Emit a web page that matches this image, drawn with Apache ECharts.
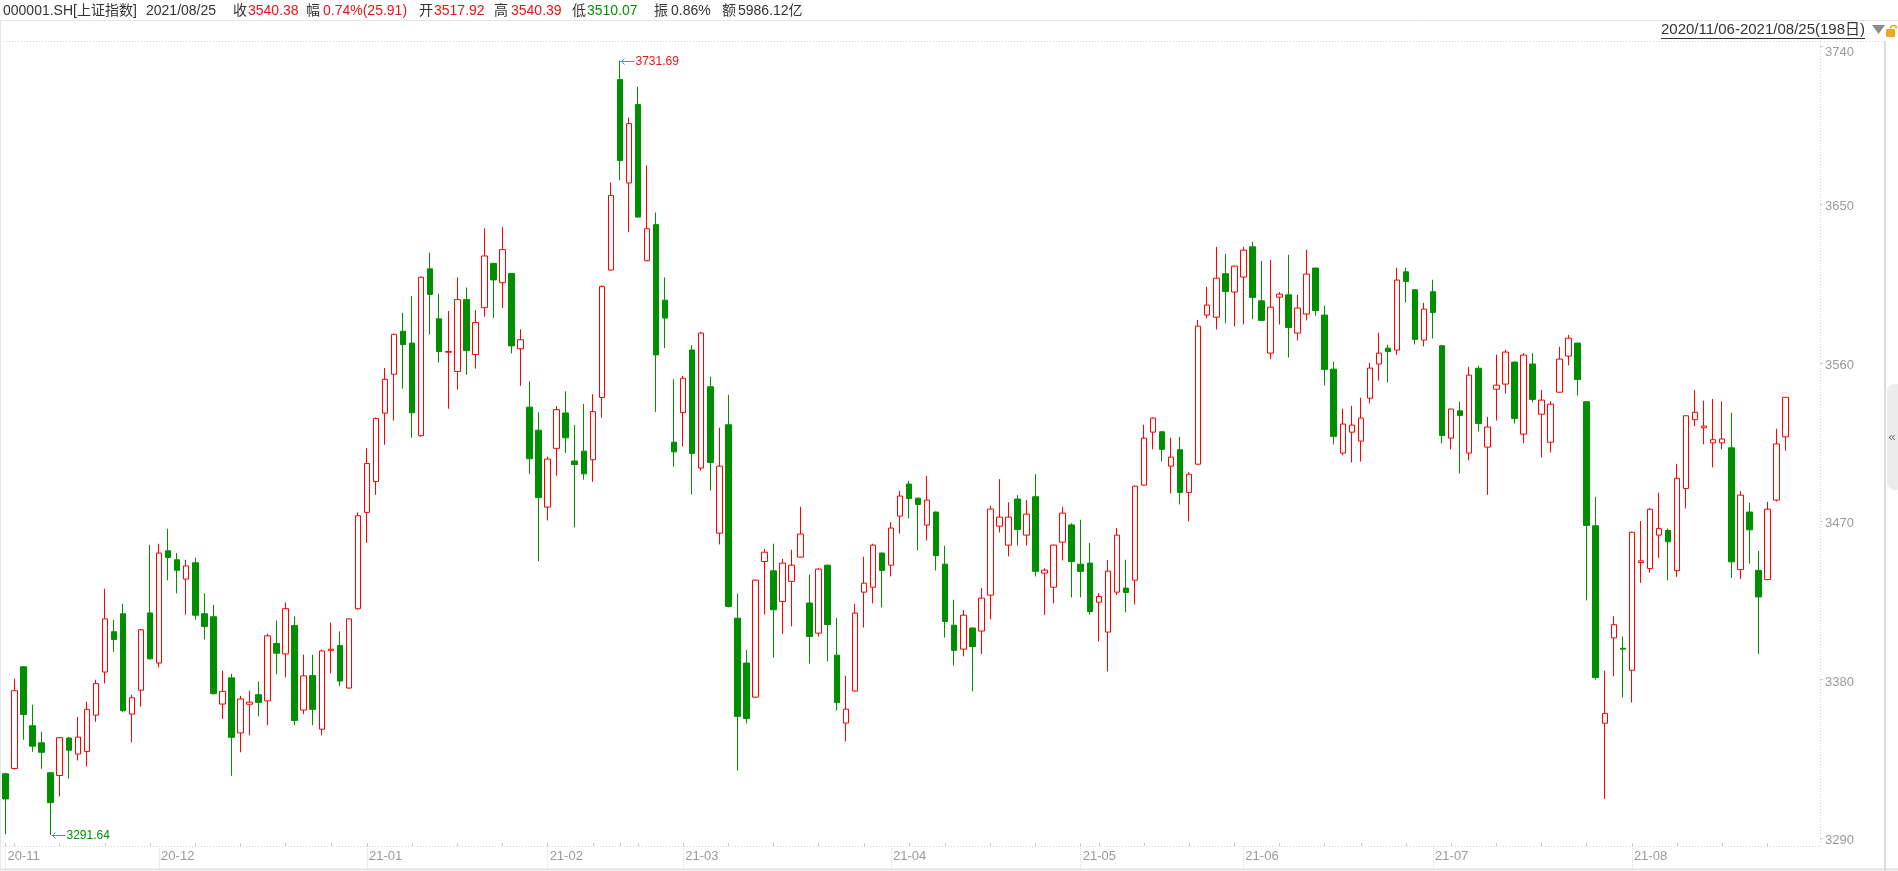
<!DOCTYPE html>
<html>
<head>
<meta charset="utf-8">
<title>000001.SH 上证指数</title>
<script src="https://cdn.jsdelivr.net/npm/echarts@6/dist/echarts.min.js"></script>
<style>
  html, body { margin: 0; padding: 0; background: #fff; }
  #main { width: 1898px; height: 871px; }
</style>
</head>
<body>
<div id="main"></div>
<script>
// trading days per month (categories)
var tradeDays = [
  ['2020-11', [6,9,10,11,12,13,16,17,18,19,20,23,24,25,26,27,30]],
  ['2020-12', [1,2,3,4,7,8,9,10,11,14,15,16,17,18,21,22,23,24,25,28,29,30,31]],
  ['2021-01', [4,5,6,7,8,11,12,13,14,15,18,19,20,21,22,25,26,27,28,29]],
  ['2021-02', [1,2,3,4,5,8,9,10,18,19,22,23,24,25,26]],
  ['2021-03', [1,2,3,4,5,8,9,10,11,12,15,16,17,18,19,22,23,24,25,26,29,30,31]],
  ['2021-04', [1,2,6,7,8,9,12,13,14,15,16,19,20,21,22,23,26,27,28,29,30]],
  ['2021-05', [6,7,10,11,12,13,14,17,18,19,20,21,24,25,26,27,28,31]],
  ['2021-06', [1,2,3,4,7,8,9,10,11,15,16,17,18,21,22,23,24,25,28,29,30]],
  ['2021-07', [1,2,5,6,7,8,9,12,13,14,15,16,19,20,21,22,23,26,27,28,29,30]],
  ['2021-08', [2,3,4,5,6,9,10,11,12,13,16,17,18,19,20,23,24,25]]
];

// [open, close, low, high]
var kNov = [
  [3326.5,3312.2,3292.2,3327.0],[3329.5,3373.7,3329.0,3380.5],[3387.3,3360.2,3345.8,3387.6],
  [3353.8,3342.2,3339.0,3365.7],[3344.1,3338.7,3329.3,3350.4],[3327.1,3310.1,3291.64,3327.5],
  [3325.5,3347.0,3313.6,3347.2],[3346.8,3339.9,3323.8,3347.5],[3337.7,3347.3,3334.1,3358.9],
  [3339.2,3363.1,3330.7,3367.4],[3359.8,3377.7,3356.0,3379.9],[3384.3,3414.5,3377.8,3431.6],
  [3407.2,3402.8,3395.8,3414.0],[3417.4,3362.3,3361.8,3423.1],[3360.4,3369.7,3344.3,3371.4],
  [3374.0,3408.3,3364.7,3408.8],[3417.9,3391.8,3391.5,3456.6]
];
var kDec = [
  [3389.4,3451.9,3386.9,3457.2],[3453.2,3449.4,3436.4,3465.7],[3448.1,3442.1,3429.0,3451.9],
  [3437.1,3444.6,3417.0,3448.1],[3446.4,3416.6,3414.0,3449.2],[3417.4,3410.2,3402.8,3429.0],
  [3415.7,3372.0,3371.5,3422.5],[3366.1,3373.3,3357.7,3385.0],[3381.0,3347.2,3325.3,3383.3],
  [3349.7,3369.0,3338.7,3370.8],[3366.0,3367.2,3348.3,3373.7],[3371.4,3367.0,3359.1,3378.9],
  [3367.9,3404.9,3354.1,3406.1],[3400.5,3395.0,3383.1,3413.6],[3394.6,3420.3,3381.3,3423.8],
  [3410.7,3356.8,3354.1,3415.9],[3362.7,3382.1,3360.4,3394.2],[3382.3,3363.1,3354.1,3394.2],
  [3351.8,3396.3,3348.3,3397.1],[3396.6,3397.3,3383.5,3412.4],[3399.4,3379.2,3376.3,3407.4],
  [3375.2,3414.5,3374.8,3414.8],[3420.3,3473.1,3419.8,3475.0]
];
var kJan = [
  [3475.0,3502.8,3457.7,3511.5],[3492.5,3528.4,3485.0,3528.9],[3531.4,3550.6,3513.4,3557.0],
  [3553.5,3576.2,3527.2,3576.5],[3577.9,3570.4,3545.3,3588.4],[3571.2,3531.6,3517.4,3598.0],
  [3518.6,3608.6,3518.0,3609.0],[3613.4,3598.8,3576.0,3622.6],[3585.0,3566.4,3560.2,3599.2],
  [3566.0,3566.4,3533.9,3589.4],[3555.1,3595.9,3544.8,3608.5],[3595.9,3566.9,3553.2,3602.8],
  [3564.7,3582.9,3556.7,3589.9],[3591.3,3620.7,3586.2,3636.4],[3616.5,3607.1,3585.4,3616.8],
  [3605.5,3624.3,3591.1,3637.0],[3610.8,3569.6,3565.3,3611.0],[3568.0,3573.1,3546.9,3579.0],
  [3534.8,3505.5,3496.9,3549.5],[3521.7,3483.4,3447.3,3531.9]
];
var kFeb = [
  [3478.0,3505.3,3470.4,3506.7],[3511.4,3533.4,3495.9,3535.4],[3531.5,3517.4,3508.8,3543.8],
  [3504.2,3502.2,3466.5,3524.7],[3509.8,3496.9,3493.6,3536.6],[3504.9,3532.3,3492.4,3542.2],
  [3540.3,3603.4,3528.8,3604.0],[3612.7,3655.1,3612.4,3662.4],[3720.9,3674.9,3663.7,3731.69],
  [3662.2,3695.9,3634.2,3699.3],[3706.7,3642.8,3642.5,3716.8],[3618.0,3636.2,3617.7,3672.1],
  [3638.5,3564.5,3532.1,3645.4],[3595.6,3585.4,3568.4,3608.5],[3514.9,3509.4,3501.0,3550.6]
];
var kMar = [
  [3531.7,3551.2,3512.5,3552.6],[3567.3,3508.5,3485.2,3570.0],[3500.2,3576.9,3498.8,3577.5],
  [3546.4,3503.4,3487.5,3552.1],[3463.2,3501.3,3456.8,3523.1],[3524.8,3421.6,3421.0,3541.8],
  [3414.9,3359.1,3328.4,3428.8],[3389.4,3357.9,3355.1,3396.9],[3370.0,3436.5,3369.7,3436.8],
  [3447.1,3452.4,3417.0,3454.3],[3441.8,3419.7,3392.4,3457.2],[3424.4,3446.2,3406.0,3448.6],
  [3435.8,3445.0,3410.2,3453.8],[3449.6,3462.7,3449.3,3478.2],[3423.5,3404.5,3389.0,3439.6],
  [3406.4,3442.8,3404.5,3443.3],[3445.0,3411.3,3390.3,3445.3],[3393.9,3367.0,3362.5,3415.1],
  [3355.3,3363.2,3344.9,3382.2],[3373.5,3417.8,3373.2,3423.1],[3429.7,3434.8,3409.6,3449.8],
  [3432.5,3456.4,3423.3,3457.2],[3451.9,3442.0,3421.0,3452.2]
];
var kApr = [
  [3445.0,3466.1,3438.6,3469.5],[3472.9,3484.3,3463.0,3487.3],[3491.1,3482.9,3471.6,3492.9],
  [3483.1,3479.5,3453.4,3483.4],[3467.8,3482.0,3459.1,3495.8],[3475.2,3450.5,3442.0,3475.5],
  [3445.6,3413.0,3403.9,3456.0],[3410.9,3396.6,3388.0,3425.4],[3397.3,3416.6,3393.2,3419.5],
  [3409.3,3398.8,3373.3,3409.6],[3407.6,3426.3,3394.5,3432.0],[3428.0,3476.9,3414.2,3478.8],
  [3467.2,3472.3,3463.6,3493.9],[3456.4,3472.3,3450.0,3480.8],[3482.6,3465.3,3456.2,3484.8],
  [3462.1,3474.0,3456.2,3482.0],[3483.9,3441.5,3438.6,3496.7],[3440.5,3442.2,3416.8,3443.3],
  [3432.5,3456.4,3423.3,3456.7],[3458.1,3474.6,3447.7,3478.0],[3467.9,3447.1,3426.7,3468.9]
];
var kMay = [
  [3445.6,3441.5,3426.7,3470.8],[3446.2,3418.7,3417.0,3457.7],[3424.0,3427.2,3401.7,3429.1],
  [3407.0,3441.6,3384.6,3447.9],[3429.7,3462.1,3428.2,3466.1],[3432.0,3429.5,3418.2,3448.1],
  [3436.5,3489.9,3422.7,3490.2],[3490.5,3517.2,3490.2,3524.8],[3520.6,3528.6,3510.8,3529.0],
  [3520.8,3510.8,3503.9,3521.1],[3501.3,3506.4,3485.8,3517.4],[3510.6,3486.3,3479.5,3517.9],
  [3486.3,3496.7,3469.9,3497.9],[3502.4,3580.8,3502.1,3584.4],[3587.1,3592.8,3585.2,3603.2],
  [3585.9,3608.1,3578.9,3625.9],[3610.6,3600.5,3582.4,3621.9],[3600.2,3614.9,3580.7,3615.2]
];
var kJun = [
  [3608.7,3624.0,3581.8,3625.9],[3625.9,3597.1,3584.8,3628.8],[3595.2,3584.1,3583.8,3617.9],
  [3565.5,3591.6,3562.1,3618.5],[3597.3,3599.0,3581.8,3600.2],[3598.6,3580.1,3563.0,3621.4],
  [3576.9,3591.1,3572.7,3598.6],[3587.7,3610.4,3584.1,3624.2],[3613.8,3589.7,3586.7,3614.1],
  [3587.1,3556.2,3547.1,3592.4],[3556.4,3518.2,3513.6,3560.6],[3508.7,3525.2,3507.4,3533.9],
  [3520.6,3524.6,3503.4,3535.6],[3515.5,3528.6,3503.9,3540.1],[3539.9,3557.0,3536.9,3560.0],
  [3559.3,3565.5,3549.9,3577.1],[3568.3,3566.4,3548.8,3570.2],[3567.2,3607.0,3564.4,3614.0],
  [3611.7,3606.2,3594.3,3614.0],[3601.5,3573.3,3570.4,3601.8],[3572.9,3590.5,3569.3,3594.1]
];
var kJul = [
  [3600.4,3588.6,3573.8,3607.2],[3569.7,3518.7,3514.2,3570.0],[3517.2,3533.7,3510.8,3534.0],
  [3532.7,3530.1,3497.1,3537.9],[3508.7,3553.0,3504.5,3557.7],[3556.9,3525.5,3521.0,3558.3],
  [3512.1,3523.5,3485.0,3529.3],[3545.0,3547.3,3527.2,3564.6],[3547.9,3566.1,3542.6,3567.4],
  [3560.4,3528.4,3525.5,3560.7],[3519.5,3564.4,3514.2,3565.5],[3559.3,3539.2,3537.5,3565.5],
  [3530.8,3538.8,3506.2,3544.5],[3514.9,3536.5,3509.1,3538.2],[3543.3,3562.1,3543.0,3569.1],
  [3563.8,3574.0,3558.5,3575.9],[3571.2,3550.5,3541.4,3571.5],[3537.9,3467.6,3425.0,3538.2],
  [3467.4,3381.2,3379.9,3483.9],[3355.2,3360.8,3312.3,3385.1],[3403.7,3411.2,3381.9,3416.0],
  [3397.8,3397.3,3369.8,3404.5]
];
var kAug = [
  [3385.3,3463.7,3367.0,3464.0],[3446.5,3447.5,3435.0,3470.1],[3443.1,3476.8,3440.7,3477.4],
  [3462.1,3465.9,3449.1,3486.2],[3464.7,3458.3,3436.4,3465.9],[3441.9,3494.4,3438.4,3502.6],
  [3488.6,3529.9,3477.2,3530.2],[3527.7,3531.9,3524.1,3544.4],[3523.1,3524.1,3513.7,3538.5],
  [3514.5,3516.3,3500.6,3539.5],[3514.5,3516.7,3510.9,3538.1],[3511.7,3446.9,3437.8,3531.7],
  [3442.5,3484.8,3437.2,3487.0],[3475.2,3465.1,3445.9,3480.4],[3442.1,3427.0,3394.5,3453.1],
  [3436.8,3476.8,3436.5,3481.0],[3482.0,3513.9,3481.2,3522.5],[3517.92,3540.38,3510.07,3540.39]
];

var yTicks = [3290, 3380, 3470, 3560, 3650, 3740];

// header line: [text, color]
var headerItems = [
  ['000001.SH[上证指数]', '#333'], ['2021/08/25', '#333'],
  ['收', '#333'], ['3540.38', '#e8141a'],
  ['幅', '#333'], ['0.74%(25.91)', '#e8141a'],
  ['开', '#333'], ['3517.92', '#e8141a'],
  ['高', '#333'], ['3540.39', '#e8141a'],
  ['低', '#333'], ['3510.07', '#009000'],
  ['振', '#333'], ['0.86%', '#333'],
  ['额', '#333'], ['5986.12亿', '#333']
];
var headerX = [3, 146, 233, 248, 306, 323, 419, 434, 494, 511, 572, 587, 654, 671, 722, 738];
var rangeText = '2020/11/06-2021/08/25(198日)';

var dates = [];
tradeDays.forEach(function (m) {
  m[1].forEach(function (d) { dates.push(m[0] + '-' + (d < 10 ? '0' + d : d)); });
});
var kdata = [].concat(kNov, kDec, kJan, kFeb, kMar, kApr, kMay, kJun, kJul, kAug);

// month start and week start flags (for labels / ticks)
var monthStart = [], weekStart = [];
for (var i = 0; i < dates.length; i++) {
  monthStart.push(i === 0 || dates[i].slice(0, 7) !== dates[i - 1].slice(0, 7));
  if (i === 0) { weekStart.push(true); continue; }
  var a = new Date(dates[i - 1] + 'T00:00:00'), b = new Date(dates[i] + 'T00:00:00');
  weekStart.push(b.getDay() <= a.getDay() || (b - a) >= 7 * 86400000);
}

var FONT = 'Arial, "Liberation Sans", "Noto Sans CJK SC", sans-serif';
var UP = '#ff0000', DOWN = '#008f00';

var dom = document.getElementById('main');
var myChart = echarts.init(dom);

var option = {
  animation: false,
  backgroundColor: '#fff',
  grid: { left: 1, right: 108, top: 46, bottom: 33 },
  xAxis: [{
    type: 'category',
    data: dates,
    boundaryGap: true,
    offset: 8,
    axisLine: { show: false },
    axisTick: {
      show: true, inside: true, length: 3, alignWithLabel: true,
      interval: function (idx) { return weekStart[idx]; },
      lineStyle: { color: '#c8c8c8' }
    },
    axisLabel: {
      interval: function (idx) { return monthStart[idx]; },
      formatter: function (v) { return v.slice(2, 7); },
      align: 'left', padding: [0, 0, 0, 2], margin: 4,
      color: '#9a9a9a', fontSize: 13, fontFamily: FONT
    },
    splitLine: { show: false }
  }, {
    type: 'category',
    data: dates,
    position: 'bottom',
    offset: 8,
    axisLine: { show: false },
    axisLabel: { show: false },
    axisTick: {
      show: true, inside: false, length: 24, alignWithLabel: true,
      interval: function (idx) { return monthStart[idx]; },
      lineStyle: { color: '#dcdcdc', type: 'dotted' }
    },
    splitLine: { show: false }
  }],
  yAxis: {
    type: 'value',
    position: 'right',
    offset: 30,
    min: yTicks[0],
    max: yTicks[yTicks.length - 1],
    interval: 90,
    axisLine: { show: false },
    axisTick: { show: true, length: 3, lineStyle: { color: '#cfcfcf' } },
    axisLabel: {
      color: '#9a9a9a', fontSize: 13, fontFamily: FONT, margin: 5,
      formatter: function (v) {
        return v === yTicks[yTicks.length - 1] ? '{t|' + v + '}' : '{n|' + v + '}';
      },
      rich: {
        t: { color: '#9a9a9a', fontSize: 13, fontFamily: FONT, padding: [12, 0, 0, 0] },
        n: { color: '#9a9a9a', fontSize: 13, fontFamily: FONT, padding: [5, 0, 0, 0] }
      }
    },
    splitLine: { show: false }
  },
  series: [{
    type: 'candlestick',
    data: kdata,
    barWidth: 6,
    itemStyle: {
      color: '#ffffff',
      color0: DOWN,
      borderColor: UP,
      borderColor0: DOWN,
      borderWidth: 1
    }
  }]
};

myChart.setOption(option);

// static frame pieces
var g = [];
function hline(y, x1, x2, color, dash, w) {
  g.push({ type: 'line', silent: true, z: 10,
    shape: { x1: x1, y1: y, x2: x2, y2: y },
    style: { stroke: color, lineWidth: w || 1, lineDash: dash || null } });
}
function vline(x, y1, y2, color, dash, w) {
  g.push({ type: 'line', silent: true, z: 10,
    shape: { x1: x, y1: y1, x2: x, y2: y2 },
    style: { stroke: color, lineWidth: w || 1, lineDash: dash || null } });
}
hline(20.5, 0, 1898, '#e6e6e6');
hline(41.5, 0, 1884, '#d6d6d6', [1, 2]);
hline(846.5, 0, 1820, '#d6d6d6', [1, 2]);
hline(869.5, 0, 1898, '#e2e2e2', null, 2);
vline(0.5, 20, 871, '#e6e6e6');
vline(1820.5, 41, 847, '#d6d6d6', [1, 2]);
vline(1885, 41, 871, '#dcdcdc', null, 2);

// header
headerItems.forEach(function (h, k) {
  g.push({ type: 'text', x: headerX[k], y: 11, silent: true,
    style: { text: h[0], fill: h[1], font: '14px ' + FONT,
      textAlign: 'left', textVerticalAlign: 'middle', align: 'left', verticalAlign: 'middle' } });
});

// range selector top right
var RFONT = '15px ' + FONT;
var ctx = document.createElement('canvas').getContext('2d');
ctx.font = RFONT;
var rw = ctx.measureText(rangeText).width;
g.push({ type: 'text', x: 1865, y: 30, silent: true,
  style: { text: rangeText, fill: '#333', font: RFONT,
    textAlign: 'right', textVerticalAlign: 'middle', align: 'right', verticalAlign: 'middle' } });
hline(38.5, 1865 - rw, 1865, '#333');
g.push({ type: 'polygon', silent: true, shape: { points: [[1872, 25], [1885, 25], [1878.5, 34]] },
  style: { fill: '#8c8c8c' } });
g.push({ type: 'rect', silent: true, shape: { x: 1886, y: 29, width: 9, height: 8, r: 1 },
  style: { fill: '#f2a51f' } });
g.push({ type: 'arc', silent: true, shape: { cx: 1893.5, cy: 28.5, r: 3, startAngle: Math.PI, endAngle: Math.PI * 2 },
  style: { stroke: '#f2a51f', lineWidth: 1.5, fill: null } });
g.push({ type: 'rect', silent: true, shape: { x: 1887, y: 384, width: 11, height: 106, r: [8, 0, 0, 8] },
  style: { fill: '#ececec' } });
g.push({ type: 'text', x: 1892, y: 437, silent: true,
  style: { text: '«', fill: '#777', font: '13px ' + FONT,
    textAlign: 'center', textVerticalAlign: 'middle', align: 'center', verticalAlign: 'middle' } });

// high / low annotations, placed through the chart's own scales
var hiIdx = 0, loIdx = 0;
kdata.forEach(function (d, k) {
  if (d[3] > kdata[hiIdx][3]) hiIdx = k;
  if (d[2] < kdata[loIdx][2]) loIdx = k;
});
function annot(idx, price, color) {
  var p = myChart.convertToPixel({ xAxisIndex: 0, yAxisIndex: 0 }, [idx, price]);
  var x = Math.round(p[0]) + 0.5, y = Math.round(p[1]) + 0.5;
  var arrow = '#3a9cc2';
  g.push({ type: 'line', silent: true, z: 20, shape: { x1: x, y1: y, x2: x + 14, y2: y },
    style: { stroke: arrow, lineWidth: 1 } });
  g.push({ type: 'polyline', silent: true, z: 20, shape: { points: [[x + 4, y - 3], [x + 1, y], [x + 4, y + 3]] },
    style: { stroke: arrow, lineWidth: 1, fill: null } });
  g.push({ type: 'text', x: x + 15, y: y, silent: true, z: 20,
    style: { text: price.toFixed(2), fill: color, font: '12px ' + FONT,
      textAlign: 'left', textVerticalAlign: 'middle', align: 'left', verticalAlign: 'middle' } });
}
annot(hiIdx, kdata[hiIdx][3], '#e8141a');
annot(loIdx, kdata[loIdx][2], '#009000');

myChart.setOption({ graphic: g });
</script>
</body>
</html>
